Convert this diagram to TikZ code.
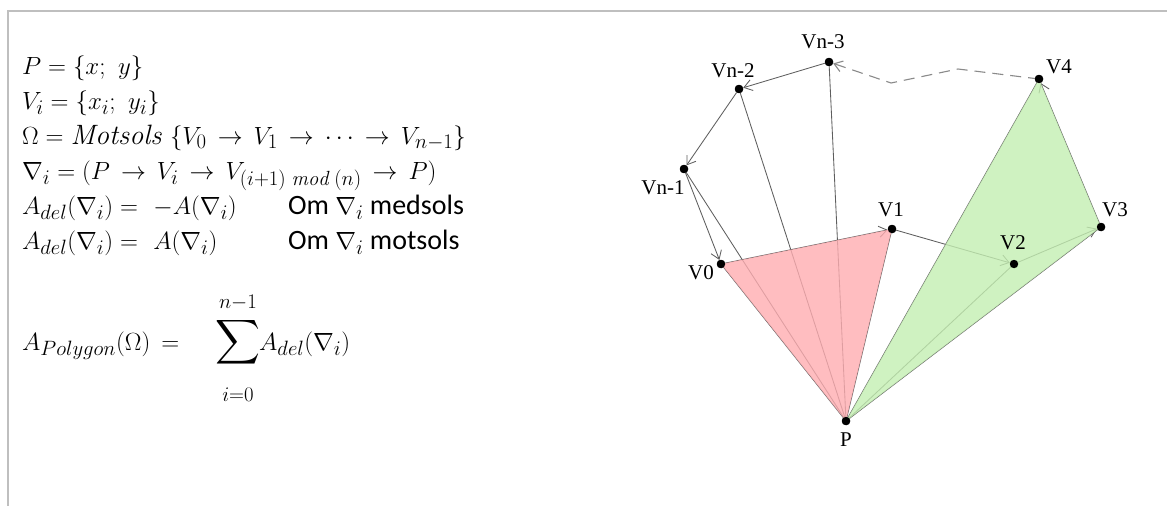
\documentclass[tikz,border=0pt]{standalone}
\usepackage{fontspec}
\usepackage{amsmath}
\newfontfamily\lbl{Liberation Serif}
\newfontfamily\calfont{Carlito}
\usetikzlibrary{arrows.meta}
\DeclareMathSizes{28}{28}{20.5}{16}
\definecolor{linegray}{HTML}{5E5E5E}
\definecolor{dashgray}{HTML}{8A8A8A}
\definecolor{framegray}{HTML}{BFBFBF}
\definecolor{pinkfill}{HTML}{FFADB1}
\definecolor{greenfill}{HTML}{C4EFB2}
\newcommand{\arw}{\mathrel{\,\rightarrow\,}}
\begin{document}
\begin{tikzpicture}[x=1pt,y=-1pt,
  edge/.style={draw=linegray, line width=0.85pt},
  arr/.style={edge,-{Straight Barb[length=8pt,width=11pt]}},
  dsh/.style={draw=dashgray, line width=1.1pt, dash pattern=on 11pt off 7pt,-{Straight Barb[length=8pt,width=11pt]}},
  dot/.style={circle, fill=black, inner sep=0pt, minimum size=8.4pt},
  vlabel/.style={font=\lbl\fontsize{21}{21}\selectfont, inner sep=0pt},
  mline/.style={anchor=base west, inner sep=0pt, font=\fontsize{28}{32}\selectfont},
  lim/.style={inner sep=0pt, font=\fontsize{20.5}{24}\selectfont},
]
\useasboundingbox (0,0) rectangle (1167,506);
\fill[white] (0,0) rectangle (1167,506);
% frame
\draw[framegray, line width=1.5pt] (7,11) -- (1167,11);
\draw[framegray, line width=1.5pt] (8,11) -- (8,506);

% vertices
\node[dot] (P) at (846,421) {};
\node[dot] (V0) at (721,264) {};
\node[dot] (V1) at (892,229) {};
\node[dot] (V2) at (1014,264) {};
\node[dot] (V3) at (1101,227) {};
\node[dot] (V4) at (1039,79) {};
\node[dot] (Vn3) at (829,62) {};
\node[dot] (Vn2) at (739,89) {};
\node[dot] (Vn1) at (684,169) {};
\coordinate (d1) at (958,69);
\coordinate (d2) at (891,83);

% spokes from P
\foreach \v in {V0,V1,V2,V3,V4,Vn3,Vn2,Vn1}
  \draw[edge] (P.center) -- (\v.center);

% polygon edges
\draw[arr] (V0) -- (V1);
\draw[arr] (V1) -- (V2);
\draw[arr] (V2) -- (V3);
\draw[arr] (V3) -- (V4);
\draw[dsh] (V4.center) -- (d1) -- (d2) -- (Vn3);
\draw[arr] (Vn3) -- (Vn2);
\draw[arr] (Vn2) -- (Vn1);
\draw[arr] (Vn1) -- (V0);

% triangles
\fill[pinkfill, opacity=0.8] (P.center) -- (V0.center) -- (V1.center) -- cycle;
\fill[greenfill, opacity=0.8] (P.center) -- (V4.center) -- (V3.center) -- cycle;

% dots on top
\foreach \v in {P,V0,V1,V2,V3,V4,Vn3,Vn2,Vn1}
  \fill[black] (\v) circle (4.2pt);

% labels
\node[vlabel] (lVn3) at (823,42) {Vn-3};
\node[vlabel] (lVn2) at (733,71) {Vn-2};
\node[vlabel] (lVn1) at (663,188) {Vn-1};
\node[vlabel] (lV0) at (701,273) {V0};
\node[vlabel] (lV1) at (891,210) {V1};
\node[vlabel] (lV2) at (1013,243) {V2};
\node[vlabel] (lV3) at (1115,210) {V3};
\node[vlabel] (lV4) at (1059,67) {V4};
\node[vlabel] (lP) at (846,440) {P};

% formulas
\node[mline] (m1) at (22,74) {$P=\{x;\ y\}$};
\node[mline] (m2) at (22,109) {$V_i=\{x_i;\ y_i\}$};
\node[mline] (m3) at (22,144) {$\Omega=\mathit{Motsols}\ \{V_0\arw V_1\arw\cdots\arw V_{n-1}\}$};
\node[mline] (m4) at (22,179) {$\nabla_i=(P\arw V_i\arw V_{(i+1)\;\mathit{mod}\;(n)}\arw P)$};
\node[mline] (m5) at (22,214) {$A_{del}(\nabla_i)=\ -A(\nabla_i)$};
\node[mline] (m5b) at (288,214) {\calfont Om $\nabla_i$ medsols};
\node[mline] (m6) at (22,249) {$A_{del}(\nabla_i)=\ A(\nabla_i)$};
\node[mline] (m6b) at (288,249) {\calfont Om $\nabla_i$ motsols};
\node[mline] (m7) at (22,350) {$A_{Polygon}(\Omega)\,=$};
\node[inner sep=0pt, text height=20pt, text depth=18pt] (sig) at (238,349) {\fontsize{28}{32}\selectfont\scalebox{1.25}{$\displaystyle\sum$}};
\node[lim] (sup) at (238,303) {$n{-}1$};
\node[lim] (sub) at (238,395) {$i{=}0$};
\node[mline] (m7b) at (259,350) {$A_{del}(\nabla_i)$};
\end{tikzpicture}
\end{document}
